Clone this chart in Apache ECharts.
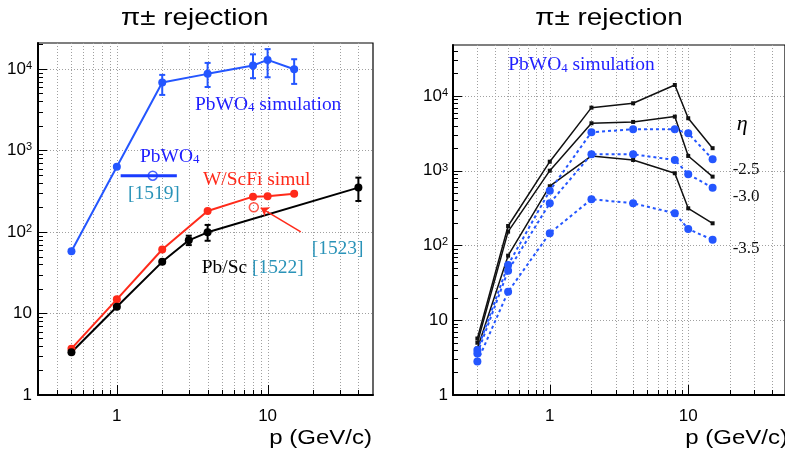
<!DOCTYPE html>
<html><head><meta charset="utf-8">
<script src="https://cdn.jsdelivr.net/npm/echarts@6/dist/echarts.min.js"></script>
<style>html,body{margin:0;padding:0;background:#fff}#c{width:785px;height:457px}</style>
</head><body><div id="c"></div>
<script>
// ---------- Left panel data ----------
const pbwoSimP   = [0.5, 1, 2, 4, 8, 10, 15];
const pbwoSimR   = [58, 630, 6800, 8700, 11000, 12900, 9900];
const pbwoErrP   = [2, 4, 8, 10, 15];
const pbwoErrLo  = [4800, 6000, 7700, 7900, 6550];
const pbwoErrHi  = [8450, 11850, 15100, 17500, 13150];
const wscfiP     = [0.5, 1, 2, 4, 8, 10, 15];
const wscfiR     = [3.7, 14.9, 61, 181, 271, 275, 295];
const pbscP      = [0.5, 1, 2, 3, 4, 40];
const pbscR      = [3.35, 12.1, 43, 79, 99, 350];
const pbscErrP   = [3, 4, 40];
const pbscErrLo  = [69, 78, 240];
const pbscErrHi  = [90, 122, 464];
const measP      = [1.73];
const measR      = [490];
const measPLo    = [1.06];
const measPHi    = [2.5];
const ref1523P   = [8.1];
const ref1523R   = [201];
const arrowFrom  = [16.6, 100];
const arrowTo    = [9.0, 198];

// ---------- Right panel data ----------
const etaP   = [0.3, 0.5, 1, 2, 4, 8, 10, 15];
const blackA = [5.7, 182, 1320, 6970, 7980, 14000, 5030, 2000];
const blackB = [5.0, 153, 1000, 4310, 4490, 5290, 1575, 833];
const blackC = [4.2, 73, 620, 1575, 1390, 925, 314, 198];
const blueA  = [4.0, 55, 541, 3270, 3580, 3580, 3170, 1420];
const blueB  = [3.6, 46, 367, 1660, 1660, 1390, 896, 593];
const blueC  = [2.8, 24, 146, 415, 367, 270, 166, 119];

// ---------- Ticks ----------
const xTickValues = [1, 10];
const xTickLabels = ['1', '10'];
const yTickValues = [1, 10, 100, 1000, 10000];
const yTickLabels = ['1', '10', '10{sup|2}', '10{sup|3}', '10{sup|4}'];
const minorMantissas = [2, 3, 4, 5, 6, 7, 8, 9];

const C_BLUE = '#2456ff', C_BLUE_T = '#1f1fff', C_RED = '#ff2a1a', C_TEAL = '#2a93b8';

function labelFor(values, labels) {
  return function (v) {
    for (let i = 0; i < values.length; i++) {
      if (Math.abs(Math.log10(v) - Math.log10(values[i])) < 1e-6) return labels[i];
    }
    return '';
  };
}
function tickList(majors, lo, hi) {
  const out = [];
  for (let k = -2; k <= 5; k++) {
    const d = Math.pow(10, k);
    [1].concat(minorMantissas).forEach(m => {
      const v = +(m * d).toPrecision(6);
      if (v > lo * 1.0000001 && v < hi / 1.0000001) out.push(v);
    });
  }
  return out;
}
function decoSeries(gi, xMin, xMax, yMin, yMax) {
  const data = [];
  tickList(xTickValues, xMin, xMax).forEach(v => data.push([v, yMin * 1.5, 0, xTickValues.indexOf(v) >= 0 ? 1 : 0]));
  tickList(yTickValues, yMin, yMax).forEach(v => data.push([xMin * 1.1, v, 1, yTickValues.indexOf(v) >= 0 ? 1 : 0]));
  return {
    type: 'custom', xAxisIndex: gi, yAxisIndex: gi, z: 1, silent: true, clip: false,
    encode: { x: 0, y: 1 }, data,
    renderItem(params, api) {
      const cs = params.coordSys;
      const kind = api.value(2), major = api.value(3);
      const p = api.coord([api.value(0), api.value(1)]);
      if (kind === 0) {
        const X = Math.round(p[0]) + 0.5, B = cs.y + cs.height;
        return { type: 'group', children: [
          { type: 'line', shape: { x1: X, y1: cs.y, x2: X, y2: B }, style: { stroke: '#a0a0a0', lineWidth: 1, lineDash: [1, 2] } },
          { type: 'line', shape: { x1: X, y1: B, x2: X, y2: B - (major ? 10 : 5) }, style: { stroke: '#000', lineWidth: 1 } }
        ] };
      }
      const Y = Math.round(p[1]) + 0.5;
      const ch = [{ type: 'line', shape: { x1: cs.x, y1: Y, x2: cs.x + (major ? 9 : 5), y2: Y }, style: { stroke: '#000', lineWidth: 1 } }];
      if (major) ch.unshift({ type: 'line', shape: { x1: cs.x, y1: Y, x2: cs.x + cs.width, y2: Y }, style: { stroke: '#a0a0a0', lineWidth: 1, lineDash: [1, 2] } });
      return { type: 'group', children: ch };
    }
  };
}
function errSeries(gi, P, lo, hi, color) {
  return {
    type: 'custom', xAxisIndex: gi, yAxisIndex: gi, z: 3, silent: true,
    encode: { x: 0, y: [1, 2] },
    data: P.map((p, i) => [p, lo[i], hi[i]]),
    renderItem(params, api) {
      const a = api.coord([api.value(0), api.value(1)]);
      const b = api.coord([api.value(0), api.value(2)]);
      const st = { stroke: color, lineWidth: 2 };
      return { type: 'group', children: [
        { type: 'line', shape: { x1: a[0], y1: a[1], x2: b[0], y2: b[1] }, style: st },
        { type: 'line', shape: { x1: a[0] - 3, y1: a[1], x2: a[0] + 3, y2: a[1] }, style: st },
        { type: 'line', shape: { x1: b[0] - 3, y1: b[1], x2: b[0] + 3, y2: b[1] }, style: st }
      ] };
    }
  };
}
function lineS(gi, P, R, color, opt) {
  opt = opt || {};
  return {
    type: 'line', xAxisIndex: gi, yAxisIndex: gi, z: 4,
    data: P.map((p, i) => [p, R[i]]),
    symbol: opt.symbol || 'circle', symbolSize: opt.size || 8, showSymbol: opt.showSymbol !== false,
    itemStyle: { color }, lineStyle: { color, width: opt.width || 2, type: opt.dash || 'solid' }
  };
}
const SANS = 'Liberation Sans, Arial, sans-serif';
const SERIF = 'Liberation Serif, Times New Roman, serif';
function subRich(color) { return { sub: { fontSize: 12, fontFamily: SERIF, verticalAlign: 'bottom', fill: color } }; }
function txt(x, y, text, o) {
  return {
    type: 'text', x, y, scaleX: o.sx || 1, z: 50, silent: true,
    style: {
      x: 0, y: 0, text, fill: o.color || '#000', fontSize: o.fs, fontFamily: o.ff || SERIF,
      fontStyle: o.italic ? 'italic' : 'normal',
      align: o.align || 'left', verticalAlign: 'middle', rich: o.rich
    }
  };
}
function xAx(gi, min, max) {
  return { type: 'log', logBase: 10, gridIndex: gi, min, max,
    axisLine: { onZero: false, lineStyle: { color: '#000', width: 2 } },
    axisTick: { show: false }, splitLine: { show: false },
    axisLabel: { formatter: labelFor(xTickValues, xTickLabels), fontSize: 17, color: '#000', fontFamily: SANS, margin: 13, showMinLabel: false, showMaxLabel: false } };
}
function yAx(gi, min, max, margin) {
  return { type: 'log', logBase: 10, gridIndex: gi, min, max,
    axisLine: { onZero: false, lineStyle: { color: '#000', width: 2 } },
    axisTick: { show: false }, splitLine: { show: false },
    axisLabel: { formatter: labelFor(yTickValues, yTickLabels), fontSize: 17, color: '#000', fontFamily: SANS, margin,
      rich: { sup: { fontSize: 11, fontFamily: SANS, verticalAlign: 'top', color: '#000' } } } };
}

const L = { xMin: 0.3, xMax: 50, yMin: 1, yMax: 20800 };
const R = { xMin: 0.2, xMax: 50, yMin: 1, yMax: 48000 };

const option = {
  backgroundColor: '#fff', animation: false,
  grid: [
    { left: 38, top: 43, width: 335, height: 352, show: true, borderColor: '#000', borderWidth: 1.2, backgroundColor: 'transparent' },
    { left: 453, top: 45, width: 335, height: 350, show: true, borderColor: '#000', borderWidth: 1.2, backgroundColor: 'transparent' }
  ],
  xAxis: [xAx(0, L.xMin, L.xMax), xAx(1, R.xMin, R.xMax)],
  yAxis: [yAx(0, L.yMin, L.yMax, 6), yAx(1, R.yMin, R.yMax, 5)],
  graphic: [
    txt(194.7, 18.5, 'π± rejection', { fs: 24, ff: SANS, align: 'center', sx: 1.16 }),
    txt(609, 18.5, 'π± rejection', { fs: 24, ff: SANS, align: 'center', sx: 1.16 }),
    txt(372, 438.5, 'p (GeV/c)', { fs: 20, ff: SANS, align: 'right', sx: 1.2 }),
    txt(788, 438.5, 'p (GeV/c)', { fs: 20, ff: SANS, align: 'right', sx: 1.2 }),
    txt(195, 105, 'PbWO{sub|4} simulation', { fs: 18, color: C_BLUE_T, sx: 1.08, rich: subRich(C_BLUE_T) }),
    txt(140, 157, 'PbWO{sub|4}', { fs: 18, color: C_BLUE_T, sx: 1.08, rich: subRich(C_BLUE_T) }),
    txt(128, 194, '[1519]', { fs: 18, color: C_TEAL, sx: 1.08 }),
    txt(203, 180.7, 'W/ScFi simul', { fs: 18, color: C_RED, sx: 1.08 }),
    txt(201.7, 268.3, '{k|Pb/Sc} {t|[1522]}', { fs: 18, sx: 1.08, rich: {
      k: { fontSize: 18, fontFamily: SERIF, fill: '#000' },
      t: { fontSize: 18, fontFamily: SERIF, fill: C_TEAL } } }),
    txt(311.7, 249, '[1523]', { fs: 18, color: C_TEAL, sx: 1.08 }),
    txt(508.3, 65.7, 'PbWO{sub|4} simulation', { fs: 18, color: C_BLUE_T, sx: 1.08, rich: subRich(C_BLUE_T) }),
    txt(736.7, 124, 'η', { fs: 22, italic: true }),
    txt(732.7, 169.5, '-2.5', { fs: 17, color: '#111' }),
    txt(732.7, 197, '-3.0', { fs: 17, color: '#111' }),
    txt(732.7, 248.5, '-3.5', { fs: 17, color: '#111' })
  ],
  series: [
    decoSeries(0, L.xMin, L.xMax, L.yMin, L.yMax),
    decoSeries(1, R.xMin, R.xMax, R.yMin, R.yMax),
    // left panel
    errSeries(0, pbwoErrP, pbwoErrLo, pbwoErrHi, C_BLUE),
    errSeries(0, pbscErrP, pbscErrLo, pbscErrHi, '#000'),
    lineS(0, pbwoSimP, pbwoSimR, C_BLUE),
    lineS(0, wscfiP, wscfiR, C_RED),
    lineS(0, pbscP, pbscR, '#000'),
    { type: 'line', xAxisIndex: 0, yAxisIndex: 0, z: 4, showSymbol: false,
      data: [[measPLo[0], measR[0]], [measPHi[0], measR[0]]], lineStyle: { color: '#1a3cff', width: 3 } },
    { type: 'scatter', xAxisIndex: 0, yAxisIndex: 0, z: 5, symbol: 'circle', symbolSize: 9,
      data: measP.map((p, i) => [p, measR[i]]), itemStyle: { color: 'rgba(0,0,0,0)', borderColor: '#1a3cff', borderWidth: 1.5 } },
    { type: 'scatter', xAxisIndex: 0, yAxisIndex: 0, z: 5, symbol: 'circle', symbolSize: 9,
      data: ref1523P.map((p, i) => [p, ref1523R[i]]), itemStyle: { color: 'rgba(0,0,0,0)', borderColor: C_RED, borderWidth: 1.5 } },
    { type: 'lines', coordinateSystem: 'cartesian2d', xAxisIndex: 0, yAxisIndex: 0, z: 5,
      symbol: ['none', 'arrow'], symbolSize: 8,
      data: [{ coords: [arrowFrom, arrowTo] }], lineStyle: { color: C_RED, width: 1.5, opacity: 1 } },
    // right panel
    lineS(1, etaP, blackA, '#111', { symbol: 'rect', size: 4, width: 1.5 }),
    lineS(1, etaP, blackB, '#111', { symbol: 'rect', size: 4, width: 1.5 }),
    lineS(1, etaP, blackC, '#111', { symbol: 'rect', size: 4, width: 1.5 }),
    lineS(1, etaP, blueA, C_BLUE, { size: 8, width: 2, dash: [3, 3] }),
    lineS(1, etaP, blueB, C_BLUE, { size: 8, width: 2, dash: [3, 3] }),
    lineS(1, etaP, blueC, C_BLUE, { size: 8, width: 2, dash: [3, 3] })
  ]
};
const chart = echarts.init(document.getElementById('c'), null, { renderer: 'canvas' });
chart.setOption(option);
</script>
</body></html>
